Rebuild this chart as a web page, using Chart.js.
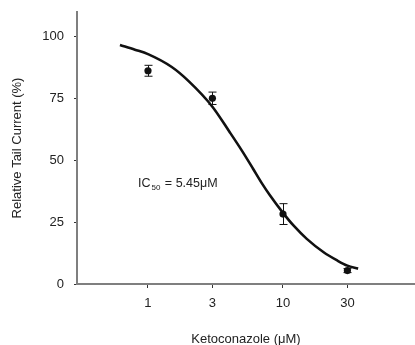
<!DOCTYPE html>
<html>
<head>
<meta charset="utf-8">
<script src="https://cdn.jsdelivr.net/npm/chart.js@4.4.1/dist/chart.umd.min.js"></script>
<style>
html,body{margin:0;padding:0;background:#fff;}
#wrap{width:415px;height:345px;position:relative;}
</style>
</head>
<body>
<div id="wrap"><canvas id="c" width="415" height="345"></canvas></div>
<script>
// Measured data points (concentration in µM, relative tail current %)
const concentrations = [1, 3, 10, 30];
const meanCurrent = [86.0, 74.9, 28.2, 5.4];
const errCurrent = [2.2, 2.5, 4.2, 0.8];
// Fitted curve
const curveX = [0.62, 0.8, 1, 1.5, 2, 3, 4, 5, 6, 7, 8, 10, 12, 15, 20, 25, 30, 36];
const curveY = [96.4, 94.5, 92.7, 87.5, 81.8, 71.5, 61.5, 53.5, 46.5, 40.5, 35.8, 28.7, 23.5, 18.2, 12.8, 9.6, 7.4, 6.2];
const xTicks = [1, 3, 10, 30];
const yTicks = [0, 25, 50, 75, 100];
const xTitle = 'Ketoconazole (μM)';
const yTitle = 'Relative Tail Current (%)';

const axisColor = '#7f7f7f';
const textColor = '#222222';
const font = {family: '"Liberation Sans", Arial, sans-serif', size: 13};

const errorBars = {
  id: 'errorBars',
  afterDatasetsDraw(chart) {
    const ctx = chart.ctx, xs = chart.scales.x, ys = chart.scales.y;
    ctx.save();
    ctx.strokeStyle = '#111';
    ctx.lineWidth = 1;
    concentrations.forEach((c, i) => {
      const px = Math.round(xs.getPixelForValue(c)) + 0.5;
      const top = ys.getPixelForValue(meanCurrent[i] + errCurrent[i]);
      const bot = ys.getPixelForValue(meanCurrent[i] - errCurrent[i]);
      ctx.beginPath();
      ctx.moveTo(px, top); ctx.lineTo(px, bot);
      ctx.moveTo(px - 4, top); ctx.lineTo(px + 4, top);
      ctx.moveTo(px - 4, bot); ctx.lineTo(px + 4, bot);
      ctx.stroke();
    });
    ctx.restore();
  }
};

const icLabel = {
  id: 'icLabel',
  afterDraw(chart) {
    const ctx = chart.ctx;
    ctx.save();
    ctx.fillStyle = textColor;
    ctx.textBaseline = 'alphabetic';
    ctx.font = '12.5px "Liberation Sans", Arial, sans-serif';
    ctx.fillText('IC', 138, 187);
    const w1 = ctx.measureText('IC').width;
    ctx.font = '8px "Liberation Sans", Arial, sans-serif';
    ctx.fillText('50', 138 + w1 + 1, 190);
    const w2 = ctx.measureText('50').width;
    ctx.font = '12.5px "Liberation Sans", Arial, sans-serif';
    ctx.fillText(' = 5.45μM', 138 + w1 + 1 + w2 + 1, 187);
    ctx.restore();
  }
};

new Chart(document.getElementById('c'), {
  type: 'scatter',
  data: {
    datasets: [
      {
        type: 'line',
        data: curveX.map((x, i) => ({x: x, y: curveY[i]})),
        borderColor: '#111',
        borderWidth: 2.6,
        pointRadius: 0,
        cubicInterpolationMode: 'monotone',
        fill: false
      },
      {
        data: concentrations.map((x, i) => ({x: x, y: meanCurrent[i]})),
        backgroundColor: '#111',
        borderColor: '#111',
        pointRadius: 3.6,
        borderWidth: 0
      }
    ]
  },
  options: {
    responsive: false,
    animation: false,
    devicePixelRatio: 1,
    layout: {autoPadding: false, padding: {top: 12, right: 0, left: 0, bottom: -2}},
    plugins: {legend: {display: false}, tooltip: {enabled: false}},
    scales: {
      x: {
        type: 'logarithmic',
        min: 0.298,
        max: 95,
        afterBuildTicks(s) { s.ticks = xTicks.map(v => ({value: v})); },
        afterFit(s) { s.height = 63; s.paddingLeft = 0; s.paddingRight = 0; },
        grid: {display: true, drawOnChartArea: false, drawTicks: true, tickLength: 4, color: '#333', lineWidth: 1},
        border: {display: true, color: axisColor, width: 2},
        ticks: {color: textColor, font: font, padding: 8, maxRotation: 0, autoSkip: false,
          callback: (v) => String(v)},
        title: {display: true, text: xTitle, color: textColor, font: font, padding: {top: 0, bottom: 0}}
      },
      y: {
        type: 'linear',
        min: 0,
        max: 109.7,
        afterBuildTicks(s) { s.ticks = yTicks.map(v => ({value: v})); },
        afterFit(s) { s.width = 77; s.paddingTop = 0; s.paddingBottom = 0; },
        grid: {display: true, drawOnChartArea: false, drawTicks: true, tickLength: 3, color: '#333', lineWidth: 1},
        border: {display: true, color: axisColor, width: 2},
        ticks: {color: textColor, font: font, padding: 10, callback: (v) => String(v)},
        title: {display: true, text: yTitle, color: textColor, font: font, padding: {top: 10, bottom: 0}}
      }
    }
  },
  plugins: [errorBars, icLabel]
});
</script>
</body>
</html>
